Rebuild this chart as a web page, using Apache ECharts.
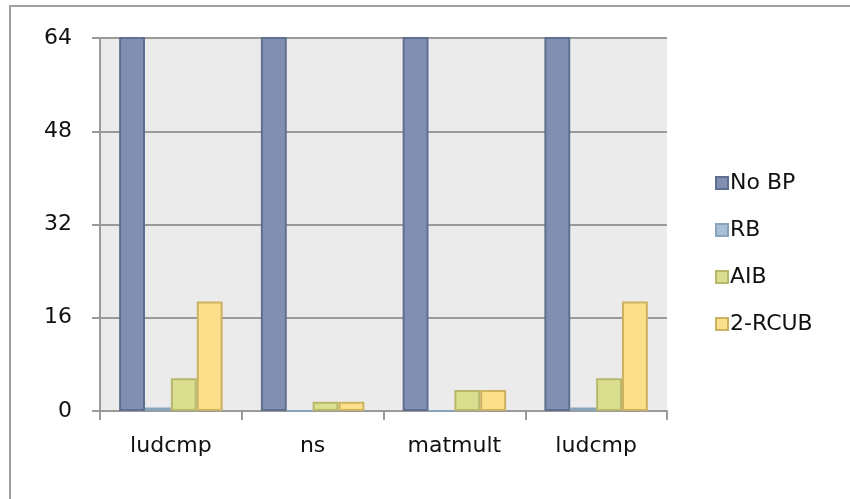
<!DOCTYPE html>
<html>
<head>
<meta charset="utf-8">
<script src="https://cdn.jsdelivr.net/npm/echarts@6/dist/echarts.min.js"></script>
<style>
  html, body { margin: 0; padding: 0; background: #fff; }
  #chart { width: 850px; height: 499px; }
</style>
</head>
<body>
<div id="chart"></div>
<script>
// Benchmarks on the x axis
const categories = ['ludcmp', 'ns', 'matmult', 'ludcmp'];

// Values per scheme (No BP runs past the top of the axis and is clipped)
const noBP   = [66, 66, 66, 66];
const rb     = [0.6, 0, 0, 0.6];
const aib    = [5.6, 1.6, 3.6, 5.6];
const rcub   = [18.8, 1.6, 3.6, 18.8];

const seriesNames = ['No BP', 'RB', 'AIB', '2-RCUB'];
const yTicks = { min: 0, max: 64, interval: 16 };

const fills   = ['#8190b2', '#a9c1d8', '#d9df8e', '#fbdf8b'];
const borders = ['#5f6f90', '#8ba2bb', '#b7b86b', '#cdb262'];

const fontFamily = '"DejaVu Sans", sans-serif';
const fontSize = 22;

const chart = echarts.init(document.getElementById('chart'));

const dataSets = [noBP, rb, aib, rcub];

chart.setOption({
  animation: false,
  backgroundColor: '#ffffff',
  graphic: [{
    type: 'rect',
    shape: { x: 10, y: 6, width: 900, height: 600 },
    style: { fill: 'none', stroke: '#a0a0a0', lineWidth: 2 },
    silent: true,
    z: -1
  }],
  grid: {
    left: 100, right: 183, top: 38, bottom: 88,
    show: true, backgroundColor: '#ebebeb', borderWidth: 0
  },
  legend: {
    orient: 'vertical',
    left: 710, top: 167,
    itemWidth: 12, itemHeight: 12,
    itemGap: 25,
    icon: 'rect',
    textStyle: { fontFamily: fontFamily, fontSize: fontSize, color: '#111', padding: [0, 0, 0, -3] },
    data: seriesNames
  },
  xAxis: {
    type: 'category',
    data: categories,
    axisLine: { lineStyle: { color: '#9a9a9a', width: 2 } },
    axisTick: { show: true, length: 9, alignWithLabel: false, lineStyle: { color: '#9a9a9a', width: 2 } },
    axisLabel: { fontFamily: fontFamily, fontSize: fontSize, color: '#111', margin: 24 },
    splitLine: { show: false }
  },
  yAxis: {
    type: 'value',
    min: yTicks.min, max: yTicks.max, interval: yTicks.interval,
    axisLine: { show: true, lineStyle: { color: '#9a9a9a', width: 2 } },
    axisTick: { show: true, length: 8, lineStyle: { color: '#9a9a9a', width: 2 } },
    axisLabel: { fontFamily: fontFamily, fontSize: fontSize, color: '#111', margin: 28 },
    splitLine: { show: true, lineStyle: { color: '#9a9a9a', width: 2 } }
  },
  series: seriesNames.map((name, i) => ({
    name: name,
    type: 'bar',
    data: dataSets[i],
    clip: true,
    barGap: '0%',
    barCategoryGap: '27%',
    itemStyle: { color: fills[i], borderColor: borders[i], borderWidth: 2 }
  }))
});
</script>
</body>
</html>
